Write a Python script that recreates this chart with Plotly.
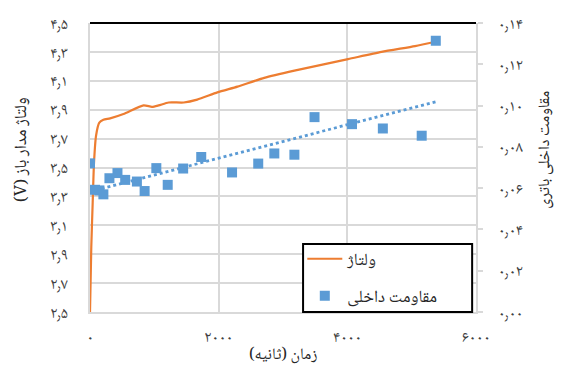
import numpy as np
import plotly.graph_objects as go

# Open-circuit voltage over time (s, V)
volt_time = [0, 20, 42, 62, 94, 145, 208, 313, 520, 833, 964, 1067, 1223, 1458, 1667,
             1980, 2292, 2708, 3177, 4011, 4531, 5052, 5375]
volt_value = [2.50, 2.95, 3.26, 3.53, 3.72, 3.81, 3.83, 3.84, 3.87, 3.93, 3.92, 3.93, 3.95,
              3.95, 3.97, 4.02, 4.06, 4.12, 4.17, 4.25, 4.30, 4.34, 4.37]

# Internal resistance samples (s, ohm)
res_time = [0, 78, 146, 208, 302, 427, 547, 729, 849, 1031, 1208, 1448, 1729, 2208,
            2615, 2865, 3177, 3490, 4073, 4552, 5156, 5375]
res_value = [0.0720, 0.0592, 0.0589, 0.0570, 0.0648, 0.0673, 0.0640, 0.0632, 0.0586,
             0.0697, 0.0616, 0.0695, 0.0751, 0.0676, 0.0719, 0.0768, 0.0762, 0.0944,
             0.0910, 0.0889, 0.0854, 0.1314]

x_ticks = [0, 2000, 4000, 6000]
x_labels = ["۰", "۲۰۰۰", "۴۰۰۰", "۶۰۰۰"]
v_ticks = [2.5, 2.7, 2.9, 3.1, 3.3, 3.5, 3.7, 3.9, 4.1, 4.3, 4.5]
v_labels = ["۲٫۵", "۲٫۷", "۲٫۹", "۳٫۱", "۳٫۳", "۳٫۵", "۳٫۷", "۳٫۹", "۴٫۱", "۴٫۳", "۴٫۵"]
r_ticks = [0.00, 0.02, 0.04, 0.06, 0.08, 0.10, 0.12, 0.14]
r_labels = ["۰٫۰۰", "۰٫۰۲", "۰٫۰۴", "۰٫۰۶", "۰٫۰۸", "۰٫۱۰", "۰٫۱۲", "۰٫۱۴"]

ORANGE = "#ED7D31"
BLUE = "#5B9BD5"
GRID = "#D9D9D9"
TEXT = "#262626"
FONT = "Noto Naskh Arabic, Noto Sans Arabic, DejaVu Sans, sans-serif"


def rtl(s):
    """Wrap a Persian string in a right-to-left embedding."""
    return "\u202b" + s + "\u202c"


# Linear trend of the resistance samples
slope, intercept = np.polyfit(res_time, res_value, 1)
trend_x = np.array([min(res_time), max(res_time)])
trend_y = slope * trend_x + intercept

fig = go.Figure()
fig.add_trace(go.Scatter(
    x=volt_time, y=volt_value, mode="lines", name=rtl("ولتاژ"),
    line=dict(color=ORANGE, width=2.2, shape="spline", smoothing=0.6),
    legendgroup="a",
))
fig.add_trace(go.Scatter(
    x=trend_x, y=trend_y, mode="lines", yaxis="y2", showlegend=False,
    line=dict(color=BLUE, width=2.8, dash="dot"),
))
fig.add_trace(go.Scatter(
    x=res_time, y=res_value, mode="markers", name=rtl("مقاومت داخلی"), yaxis="y2",
    marker=dict(symbol="square", size=10, color=BLUE),
    legendgroup="b",
))

fig.update_layout(
    width=561, height=370,
    margin=dict(l=90, r=85, t=18, b=58),
    paper_bgcolor="white", plot_bgcolor="white",
    font=dict(family=FONT, size=16, color="#404040"),
    showlegend=True,
    xaxis=dict(
        range=[0, 6000], tickvals=x_ticks, ticktext=x_labels,
        showgrid=True, gridcolor=GRID, gridwidth=1.5,
        showline=True, linecolor=GRID, linewidth=1.5,
        zeroline=False, ticks="", ticklabelstandoff=9,
    ),
    yaxis=dict(
        range=[2.5, 4.5], tickvals=v_ticks, ticktext=v_labels,
        showgrid=True, gridcolor=GRID, gridwidth=1.5,
        showline=True, linecolor=GRID, linewidth=1.5,
        zeroline=False, ticks="", ticklabelstandoff=17,
    ),
    yaxis2=dict(
        range=[0, 0.14], tickvals=r_ticks, ticktext=r_labels,
        overlaying="y", side="right", showgrid=False,
        showline=True, linecolor=GRID, linewidth=1.5,
        ticks="outside", ticklen=5, tickcolor=GRID, tickwidth=1.5,
        zeroline=False, ticklabelstandoff=12,
    ),
    legend=dict(
        x=0.55, y=0.245, xanchor="left", yanchor="top",
        bgcolor="rgba(0,0,0,0)", borderwidth=0,
        font=dict(size=17, color=TEXT), itemwidth=35,
        tracegroupgap=12,
    ),
    annotations=[
        dict(text=rtl("زمان (ثانیه)"), showarrow=False,
             xref="paper", yref="paper", x=0.5, y=-0.15,
             xanchor="center", yanchor="middle", font=dict(size=16, color=TEXT)),
        dict(text=rtl("ولتاژ مدار باز (V)"), textangle=-90, showarrow=False,
             xref="paper", yref="paper", x=-0.176, y=0.56,
             xanchor="center", yanchor="middle", font=dict(size=17, color=TEXT)),
        dict(text=rtl("مقاومت داخلی باتری"), textangle=-90, showarrow=False,
             xref="paper", yref="paper", x=1.178, y=0.56,
             xanchor="center", yanchor="middle", font=dict(size=16, color=TEXT)),
    ],
    shapes=[
        # frame behind the legend entries
        dict(type="rect", xref="paper", yref="paper",
             x0=0.552, x1=0.99, y0=0.0, y1=0.235, layer="above",
             fillcolor="white", line=dict(color="black", width=2)),
        # dark rule along the top of the plotting area
        dict(type="line", xref="paper", yref="paper", x0=0, x1=1.0, y0=1, y1=1,
             line=dict(color="black", width=2)),
    ],
)

fig.write_html("out.html")
